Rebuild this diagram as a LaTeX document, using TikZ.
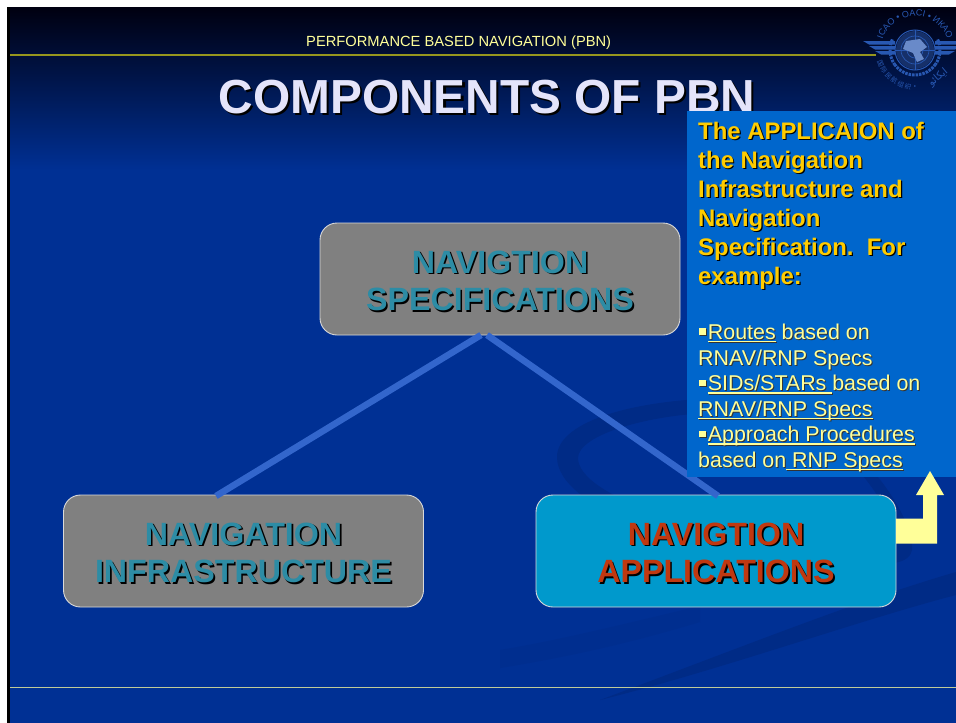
\documentclass[tikz,border=0pt]{standalone}
\usepackage{fontspec}
\setmainfont{Liberation Sans}
\newfontfamily\cjkfont{Noto Sans CJK SC}
\newfontfamily\arabicfont[Script=Arabic]{DejaVu Sans}
\TeXXeTstate=1
\usetikzlibrary{positioning,decorations.text}
\definecolor{slideblue}{RGB}{0,48,148}
\definecolor{topdark}{RGB}{0,0,16}
\definecolor{swoosh}{RGB}{0,43,134}
\definecolor{swooshb}{RGB}{0,46,143}
\definecolor{boxgrey}{RGB}{128,128,128}
\definecolor{boxteal}{RGB}{0,153,204}
\definecolor{tealtext}{RGB}{45,140,165}
\definecolor{redtext}{RGB}{192,56,16}
\definecolor{titletext}{RGB}{228,228,250}
\definecolor{paneblue}{RGB}{0,102,204}
\definecolor{goldtext}{RGB}{255,204,0}
\definecolor{paleyellow}{RGB}{255,255,153}
\definecolor{linkblue}{RGB}{51,102,204}
\definecolor{emblem}{RGB}{40,88,178}
\definecolor{ruleolive}{RGB}{150,150,30}
\newcommand{\shadowtext}[4][1.6]{% colour, size, text
  \begingroup\fontsize{#3}{#3}\selectfont\bfseries
  \makebox[0pt][l]{\hspace{#1pt}\raisebox{-#1pt}{\color{black}#4}}{\color{#2}#4}\endgroup}
\newcommand{\paneline}[1]{\makebox[0pt][l]{\hspace{1pt}\raisebox{-1pt}{\color{black!80}#1}}{\color{paleyellow}#1}}
\newcommand{\panelink}[1]{\sbox0{#1}\rlap{\rule[-3pt]{\wd0}{1.3pt}}#1}
\newcommand{\panebullet}{\hspace{1pt}\rule[4.500pt]{6.500pt}{6.500pt}\hspace{2.200pt}}
\newcommand{\boxstrut}{\rule{0pt}{28pt}}
\begin{document}
\begin{tikzpicture}[x=1pt,y=-1pt,
    compbox/.style={draw=white!85!black,line width=.9pt,rounded corners=17pt,minimum width=360pt,minimum height=112pt,inner sep=0pt,align=center},
    link/.style={draw=linkblue,line width=6.5pt},
    head/.style={inner sep=0pt,anchor=base west},
    panetext/.style={head,font=\fontsize{21.4}{21.4}\selectfont}]
\useasboundingbox (0,0) rectangle (956,723);
\fill[white] (0,0) rectangle (956,723);
\fill[black] (7,7) rectangle (956,723);
% slide background
\fill[slideblue] (10,170) rectangle (956,723);
\shade[top color=topdark,bottom color=slideblue] (10,7) rectangle (956,170);
\fill[swoosh,even odd rule] (735,398) .. controls (640,398) and (557,420) .. (557,457) .. controls (557,510) and (700,560) .. (860,565) .. controls (900,566) and (914,560) .. (912,545) .. controls (908,500) and (830,398) .. (735,398)
  (735,412) .. controls (650,412) and (578,435) .. (578,458) .. controls (578,495) and (700,540) .. (860,545) .. controls (890,545) and (895,535) .. (890,520) .. controls (870,470) and (810,412) .. (735,412);
\fill[swoosh] (956,572) .. controls (860,600) and (760,640) .. (600,700) .. controls (720,670) and (860,620) .. (956,595) -- cycle;
\fill[swooshb] (700,606) .. controls (620,625) and (560,640) .. (500,650) -- (500,668) .. controls (580,655) and (640,640) .. (700,622) -- cycle;
% header
\draw[ruleolive,line width=1.5pt] (10,55) -- (876,55);
\draw[paleyellow!75!slideblue,line width=1pt] (10,687) -- (956,687);
\node[head] (header) at (306,46.500) {\fontsize{14.7}{14.7}\selectfont\color{paleyellow}PERFORMANCE BASED NAVIGATION (PBN)};
% emblem
\begin{scope}[shift={(915,50)}]
  \fill[emblem!55!topdark] (0,0) circle (19);
  \draw[emblem,line width=1pt] (0,0) circle (20);
  \draw[emblem,line width=.7pt] (0,0) circle (14) (0,0) circle (8);
  \draw[emblem,line width=.7pt] (-20,0) -- (20,0) (0,-20) -- (0,20);
  \fill[emblem!70!white] (-9,-9) -- (5,-11) -- (12,-3) -- (5,2) -- (9,9) -- (2,12) -- (-2,3) -- (-12,-1) -- cycle;
  \foreach \y/\w in {-9/-52,-4/-46,1/-40}{
    \fill[emblem] (\w,\y) -- (-20,\y) -- (-20,\y+3.500) -- (\w+6,\y+3.500) -- cycle;
    \fill[emblem] (-\w,\y) -- (20,\y) -- (20,\y+3.500) -- (-\w-6,\y+3.500) -- cycle;
  }
  \draw[emblem,line width=3pt,dash pattern=on 2.500pt off 1pt] (0,0) ++(205:25) arc[start angle=205,end angle=145,radius=25];
  \draw[emblem,line width=3pt,dash pattern=on 2.500pt off 1pt] (0,0) ++(-25:25) arc[start angle=-25,end angle=35,radius=25];
  \draw[emblem,line width=3pt,dash pattern=on 2.500pt off 1pt] (0,0) ++(145:25) arc[start angle=145,end angle=35,radius=25];
  \path[decorate,decoration={text along path,text align=center,text={|\fontsize{9}{9}\selectfont\color{emblem}|ICAO • OACI • ИКАО}}] (200:34) arc[start angle=200,end angle=340,radius=34];
  \foreach \ch [count=\i] in {国,际,民,航,组,织}
    \node[inner sep=0pt,text=emblem,font=\cjkfont\fontsize{6.5}{6.5}\selectfont,rotate=-(170-\i*11.500-90)] (mark\i) at ({170-\i*11.500}:37) {\ch};
  \node[inner sep=0pt,text=emblem,font=\fontsize{6}{6}\selectfont] (markdot) at (90:37) {•};
  \node[inner sep=0pt,text=emblem,font=\arabicfont\fontsize{10}{10}\selectfont,rotate=40] (markar) at (50:36) {\beginR ايكائو\endR};
\end{scope}
% title
\node[inner sep=0pt,anchor=base] (title) at (487,113) {\shadowtext[2.2]{titletext}{47.8}{COMPONENTS OF PBN}};
% components
\node[compbox,fill=boxgrey] (specs) at (500,279) {\boxstrut\shadowtext{tealtext}{32.2}{NAVIGTION}\\[12.500pt]\shadowtext{tealtext}{32.2}{SPECIFICATIONS}};
\node[compbox,fill=boxgrey] (infra) at (243.5,551) {\boxstrut\shadowtext{tealtext}{32.2}{NAVIGATION}\\[12.500pt]\shadowtext{tealtext}{32.2}{INFRASTRUCTURE}};
\node[compbox,fill=boxteal] (apps) at (716,551) {\boxstrut\shadowtext{redtext}{32.2}{NAVIGTION}\\[12.500pt]\shadowtext{redtext}{32.2}{APPLICATIONS}};
\coordinate (specl) at (481,335);
\coordinate (specr) at (487,335);
\coordinate (infratop) at (216,496);
\coordinate (appstop) at (718,496);
\draw[link] (specl) -- (infratop);
\draw[link] (specr) -- (appstop);
% pane and arrow
\fill[paneblue] (687,111) rectangle (956,477);
\fill[paleyellow] (896,518.500) -- (923,518.500) -- (923,495) -- (916,495) -- (930,471) -- (944,495) -- (937,495) -- (937,543.500) -- (896,543.500) -- cycle;
\node[head] (p1) at (698,139) {\shadowtext[1.2]{goldtext}{23.9}{The APPLICAION of}};
\node[head] (p2) at (698,168) {\shadowtext[1.2]{goldtext}{23.9}{the Navigation}};
\node[head] (p3) at (698,197) {\shadowtext[1.2]{goldtext}{23.9}{Infrastructure and}};
\node[head] (p4) at (698,226) {\shadowtext[1.2]{goldtext}{23.9}{Navigation}};
\node[head] (p5) at (698,255) {\shadowtext[1.2]{goldtext}{23.9}{Specification.\ \ For}};
\node[head] (p6) at (698,284) {\shadowtext[1.2]{goldtext}{23.9}{example:}};
\node[panetext] (q1) at (698,339) {\paneline{\panebullet\panelink{Routes} based on}};
\node[panetext] (q2) at (698,365) {\paneline{RNAV/RNP Specs}};
\node[panetext] (q3) at (698,390.500) {\paneline{\panebullet\panelink{SIDs/STARs\ }based on}};
\node[panetext] (q4) at (698,416) {\paneline{\panelink{RNAV/RNP Specs}}};
\node[panetext] (q5) at (698,441.500) {\paneline{\panebullet\panelink{Approach Procedures}}};
\node[panetext] (q6) at (698,467) {\paneline{based on\panelink{\ RNP Specs}}};
\end{tikzpicture}
\end{document}
